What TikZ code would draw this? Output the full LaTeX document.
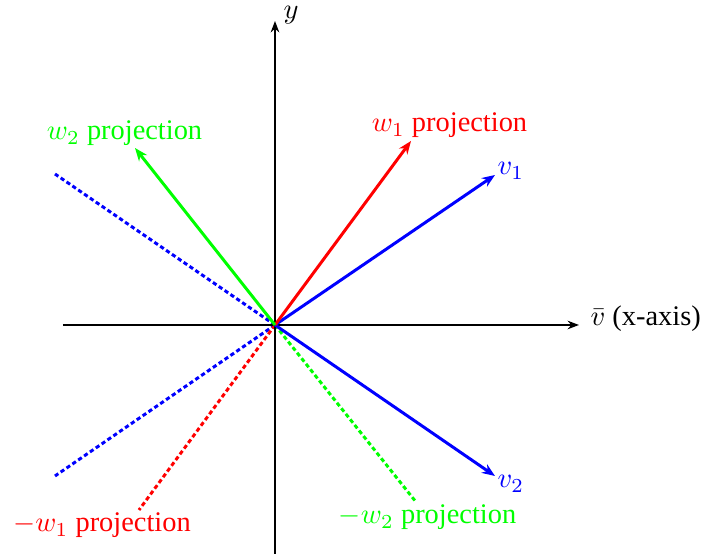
\documentclass[tikz,border=0pt]{standalone}
\usepackage{fontspec}
\setmainfont{Liberation Serif}
\newfontfamily\lblfont{Liberation Serif}
\usetikzlibrary{arrows.meta}
\begin{document}
\begin{tikzpicture}[x=0.352pt,y=-0.352pt,
  axisline/.style={line width=0.7pt,-{Stealth[length=4pt,width=3pt]}},
  vecline/.style={line width=1.05pt,-{Stealth[length=4.6pt,width=3.6pt]}},
  projline/.style={line width=1.05pt,dash pattern=on 1.5pt off 1pt},
  lbl/.style={inner sep=0pt,font=\lblfont\fontsize{10}{12}\selectfont}]
\useasboundingbox (0,0) rectangle (703,554);
\coordinate (O) at (275,325);
\coordinate (xs) at (63,325);
\coordinate (xe) at (579,325);
\coordinate (ys) at (275,554);
\coordinate (ye) at (275,21);
\coordinate (v1) at (495,175);
\coordinate (v2) at (495,476);
\coordinate (mv1) at (55,476);
\coordinate (mv2) at (55,174);
\coordinate (w1) at (411,141);
\coordinate (mw1) at (139,510);
\coordinate (w2) at (135,148);
\coordinate (mw2) at (416,502);
% dashed projections
\draw[projline,blue] (O) -- (mv1);
\draw[projline,blue] (O) -- (mv2);
\draw[projline,red] (O) -- (mw1);
\draw[projline,green] (O) -- (mw2);
% axes
\draw[axisline] (xs) -- (xe);
\draw[axisline] (ys) -- (ye);
% vectors
\draw[vecline,blue] (O) -- (v1);
\draw[vecline,blue] (O) -- (v2);
\draw[vecline,red] (O) -- (w1);
\draw[vecline,green] (O) -- (w2);
% labels
\node[lbl,anchor=base west] (xl) at (590,326) {$\bar{v}$ (x-axis)};
\node[lbl,anchor=base west] (yl) at (283,19) {$y$};
\node[lbl,anchor=base west,blue] (v1l) at (497,175) {$v_1$};
\node[lbl,anchor=base west,blue] (v2l) at (497,488) {$v_2$};
\node[lbl,anchor=base,red] (w1l) at (449.5,132) {$w_1$ projection};
\node[lbl,anchor=base,green] (w2l) at (124.5,140) {$w_2$ projection};
\node[lbl,anchor=base,red] (mw1l) at (102,532) {$-w_1$ projection};
\node[lbl,anchor=base,green] (mw2l) at (427.5,524) {$-w_2$ projection};
\end{tikzpicture}
\end{document}
